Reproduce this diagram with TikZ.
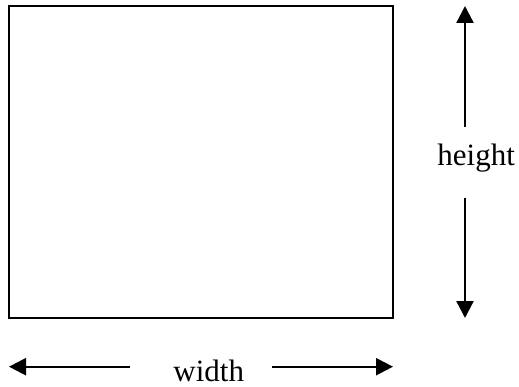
\documentclass[tikz,border=0pt]{standalone}
\usepackage{fontspec}
\setmainfont{Liberation Serif}
\usetikzlibrary{arrows.meta}
\begin{document}
\begin{tikzpicture}[x=1pt,y=-1pt,
  box/.style={draw=black,line width=2pt},
  dimarrow/.style={line width=2.3pt,-{Triangle[length=17pt,width=17pt]}},
  lbl/.style={font=\fontsize{31}{37}\selectfont,inner sep=0pt,anchor=base}]
\useasboundingbox (0,0) rectangle (519,387);
\draw[box] (8.7,5.9) rectangle (393.3,318);
\node[lbl] (h) at (476.2,165.7) {height};
\node[lbl] (w) at (208.7,381.5) {width};
\coordinate (hu) at (465,127);
\coordinate (ht) at (465,6);
\coordinate (hd) at (465,198);
\coordinate (hb) at (465,318);
\coordinate (wl) at (130,366.7);
\coordinate (wlt) at (9,366.7);
\coordinate (wr) at (272,366.7);
\coordinate (wrt) at (393,366.7);
\draw[dimarrow] (hu) -- (ht);
\draw[dimarrow] (hd) -- (hb);
\draw[dimarrow] (wl) -- (wlt);
\draw[dimarrow] (wr) -- (wrt);
\end{tikzpicture}
\end{document}
